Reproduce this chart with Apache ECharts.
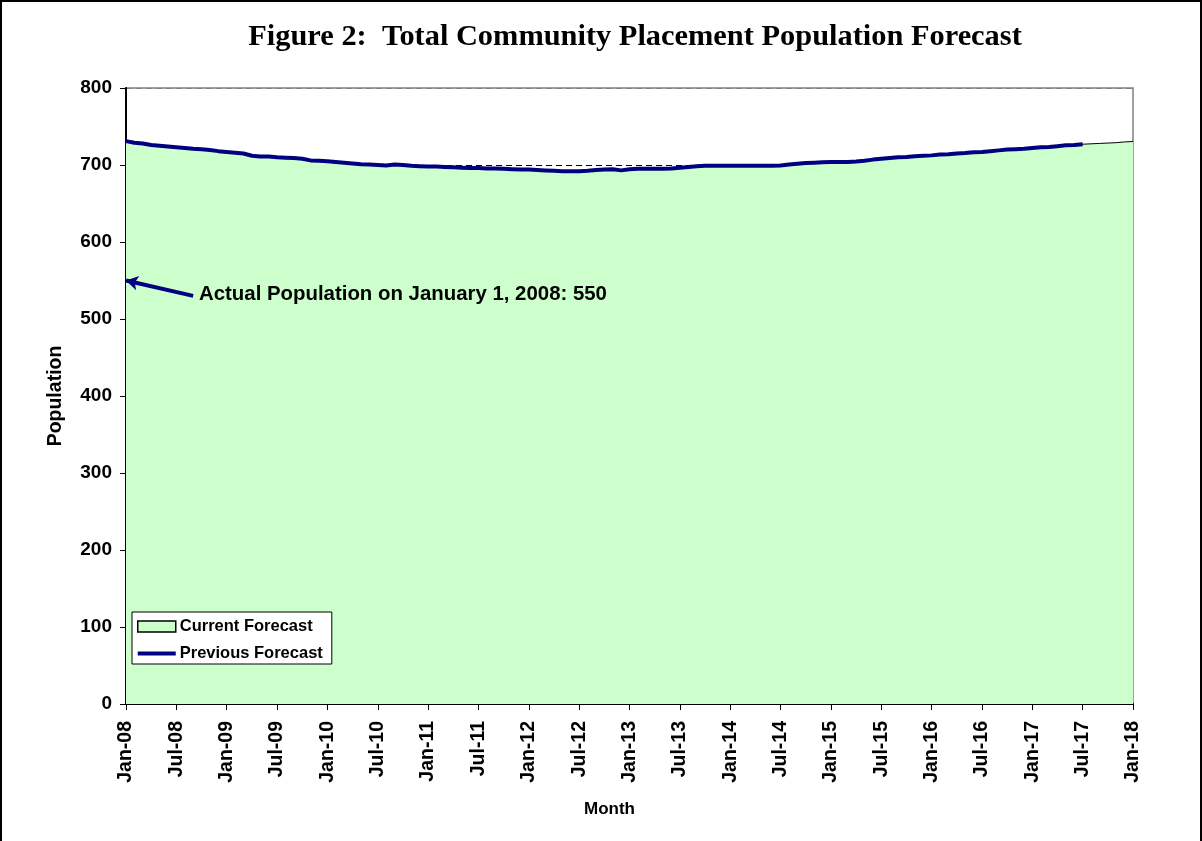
<!DOCTYPE html>
<html>
<head>
<meta charset="utf-8">
<script src="https://cdn.jsdelivr.net/npm/echarts@6/dist/echarts.min.js"></script>
<style>
html,body{margin:0;padding:0;background:#fff;}
#frame{position:absolute;left:0;top:0;width:1198px;height:841px;border-left:2px solid #000;border-top:2px solid #000;border-right:2px solid #000;box-sizing:content-box;}
#chart{position:absolute;left:0;top:0;width:1202px;height:841px;}
</style>
</head>
<body>
<div id="chart"></div>
<div id="frame"></div>
<script>
// Month categories Jan-08 .. Jan-18
const monthNames = ['Jan','Feb','Mar','Apr','May','Jun','Jul','Aug','Sep','Oct','Nov','Dec'];
const categories = [];
for (let y = 8; y <= 18; y++) {
  for (let m = 0; m < 12; m++) {
    if (y === 18 && m > 0) break;
    categories.push(monthNames[m] + '-' + String(y).padStart(2, '0'));
  }
}
const yTicks = [0, 100, 200, 300, 400, 500, 600, 700, 800];

// Current forecast (area), Jan-08 .. Jan-18
const currentForecast = [
  731, 729, 728, 726, 725, 724, 723, 722, 721, 720.5, 719.5, 718,
  717, 716, 715, 712, 711, 711, 710, 709.5, 709, 708, 706, 705.5,
  705, 704, 703, 702, 701, 700.5, 700, 699.5, 700.5, 700, 699, 698.5,
  698, 698, 697.5, 697, 696.5, 696, 696, 695.5, 695.5, 695, 694.5, 694,
  694, 693.5, 693, 692.5, 692, 692, 692, 692.5, 693.5, 694, 694.5, 693,
  694.5, 695, 695, 695, 695, 695.5, 696.5, 697.5, 698.5, 699, 699, 699,
  699, 699, 699, 699, 699, 699, 699.5, 700.5, 701.5, 702.5, 703, 703.5,
  704, 704, 704, 704.5, 705.5, 707, 708, 709, 710, 710.5, 711.5, 712,
  712.5, 713.5, 714, 715, 715.5, 716.5, 717, 718, 719, 720, 720.5, 721,
  722, 723, 723.5, 724.5, 725.5, 726, 727, 727.5, 728, 728.5, 729, 730,
  730.5
];
// Previous forecast (line), Jan-08 .. Jul-17
const previousForecast = [
  731, 729, 728, 726, 725, 724, 723, 722, 721, 720.5, 719.5, 718,
  717, 716, 715, 712, 711, 711, 710, 709.5, 709, 708, 706, 705.5,
  705, 704, 703, 702, 701, 700.5, 700, 699.5, 700.5, 700, 699, 698.5,
  698, 698, 697.5, 697, 696.5, 696, 696, 695.5, 695.5, 695, 694.5, 694,
  694, 693.5, 693, 692.5, 692, 692, 692, 692.5, 693.5, 694, 694.5, 693,
  694.5, 695, 695, 695, 695, 695.5, 696.5, 697.5, 698.5, 699, 699, 699,
  699, 699, 699, 699, 699, 699, 699.5, 700.5, 701.5, 702.5, 703, 703.5,
  704, 704, 704, 704.5, 705.5, 707, 708, 709, 710, 710.5, 711.5, 712,
  712.5, 713.5, 714, 715, 715.5, 716.5, 717, 718, 719, 720, 720.5, 721,
  722, 723, 723.5, 724.5, 725.5, 726, 727
];
const actualPopulation = 550;

const chart = echarts.init(document.getElementById('chart'), null, {renderer: 'canvas'});
const bold = {fontFamily: 'Liberation Sans, Arial, sans-serif', fontWeight: 'bold', color: '#000'};

chart.setOption({
  animation: false,
  backgroundColor: '#fff',
  title: {
    text: 'Figure 2:  Total Community Placement Population Forecast',
    left: 630, textAlign: 'center', top: 17,
    textStyle: {fontFamily: 'Liberation Serif, Times New Roman, serif', fontWeight: 'bold', fontSize: 30.4, color: '#000'}
  },
  grid: {left: 126, right: 69, top: 88, bottom: 137, show: true, borderColor: '#808080', borderWidth: 1.5, backgroundColor: 'transparent'},
  legend: {
    orient: 'vertical', left: 132, top: 612,
    backgroundColor: '#fff', borderColor: '#000', borderWidth: 1,
    padding: [6, 9, 2, 5], itemGap: 10, itemWidth: 38, itemHeight: 11,
    textStyle: Object.assign({fontSize: 16.5, padding: [0, 0, 0, -1]}, bold),
    data: [
      {name: 'Current Forecast', icon: 'rect', itemStyle: {color: '#CCFFCC', borderColor: '#000', borderWidth: 1.5}},
      {name: 'Previous Forecast', icon: 'path://M0,0 L40,0 L40,4 L0,4 Z', itemStyle: {color: '#000080'}}
    ]
  },
  xAxis: {
    type: 'category', data: categories, boundaryGap: false,
    name: 'Month', nameLocation: 'middle', nameGap: 97,
    nameTextStyle: Object.assign({fontSize: 17, padding: [0, 40, 0, 0]}, bold),
    axisLine: {lineStyle: {color: '#000', width: 2}},
    axisTick: {interval: 5, length: 6, lineStyle: {color: '#000', width: 1}},
    axisLabel: Object.assign({interval: 5, rotate: 90, fontSize: 19.5, margin: 17}, bold),
    splitLine: {show: false}
  },
  yAxis: {
    type: 'value', min: yTicks[0], max: yTicks[yTicks.length - 1], interval: 100,
    name: 'Population', nameLocation: 'middle', nameGap: 60, nameRotate: 90,
    nameTextStyle: Object.assign({fontSize: 19.5}, bold),
    axisLine: {show: true, lineStyle: {color: '#000', width: 2}},
    axisTick: {show: true, length: 6, lineStyle: {color: '#000', width: 1}},
    axisLabel: Object.assign({fontSize: 19, margin: 14}, bold),
    splitLine: {show: true, lineStyle: {color: ['#000', '#000', '#000', '#000', '#000', '#000', '#000', '#000', '#808080'], width: 1, type: [6, 4]}}
  },
  series: [
    {
      name: 'Current Forecast', type: 'line', data: currentForecast,
      symbol: 'none', z: 2,
      lineStyle: {color: '#000', width: 1},
      itemStyle: {color: '#CCFFCC'},
      areaStyle: {color: '#CCFFCC', opacity: 1},
      markLine: {
        silent: true, symbol: ['none', 'arrow'], symbolSize: [11, 12],
        lineStyle: {color: '#000080', width: 4, type: 'solid'},
        label: {show: false},
        data: [[{coord: [8, 530]}, {coord: [0, actualPopulation]}]]
      }
    },
    {
      name: 'Previous Forecast', type: 'line', data: previousForecast,
      symbol: 'none', z: 3,
      lineStyle: {color: '#000080', width: 4},
      itemStyle: {color: '#000080'}
    }
  ],
  graphic: [
    {type: 'text', left: 199, top: 284, z: 100,
     style: {text: 'Actual Population on January 1, 2008: ' + actualPopulation, font: 'bold 20.4px "Liberation Sans", Arial, sans-serif', fill: '#000'}}
  ]
});
</script>
</body>
</html>
